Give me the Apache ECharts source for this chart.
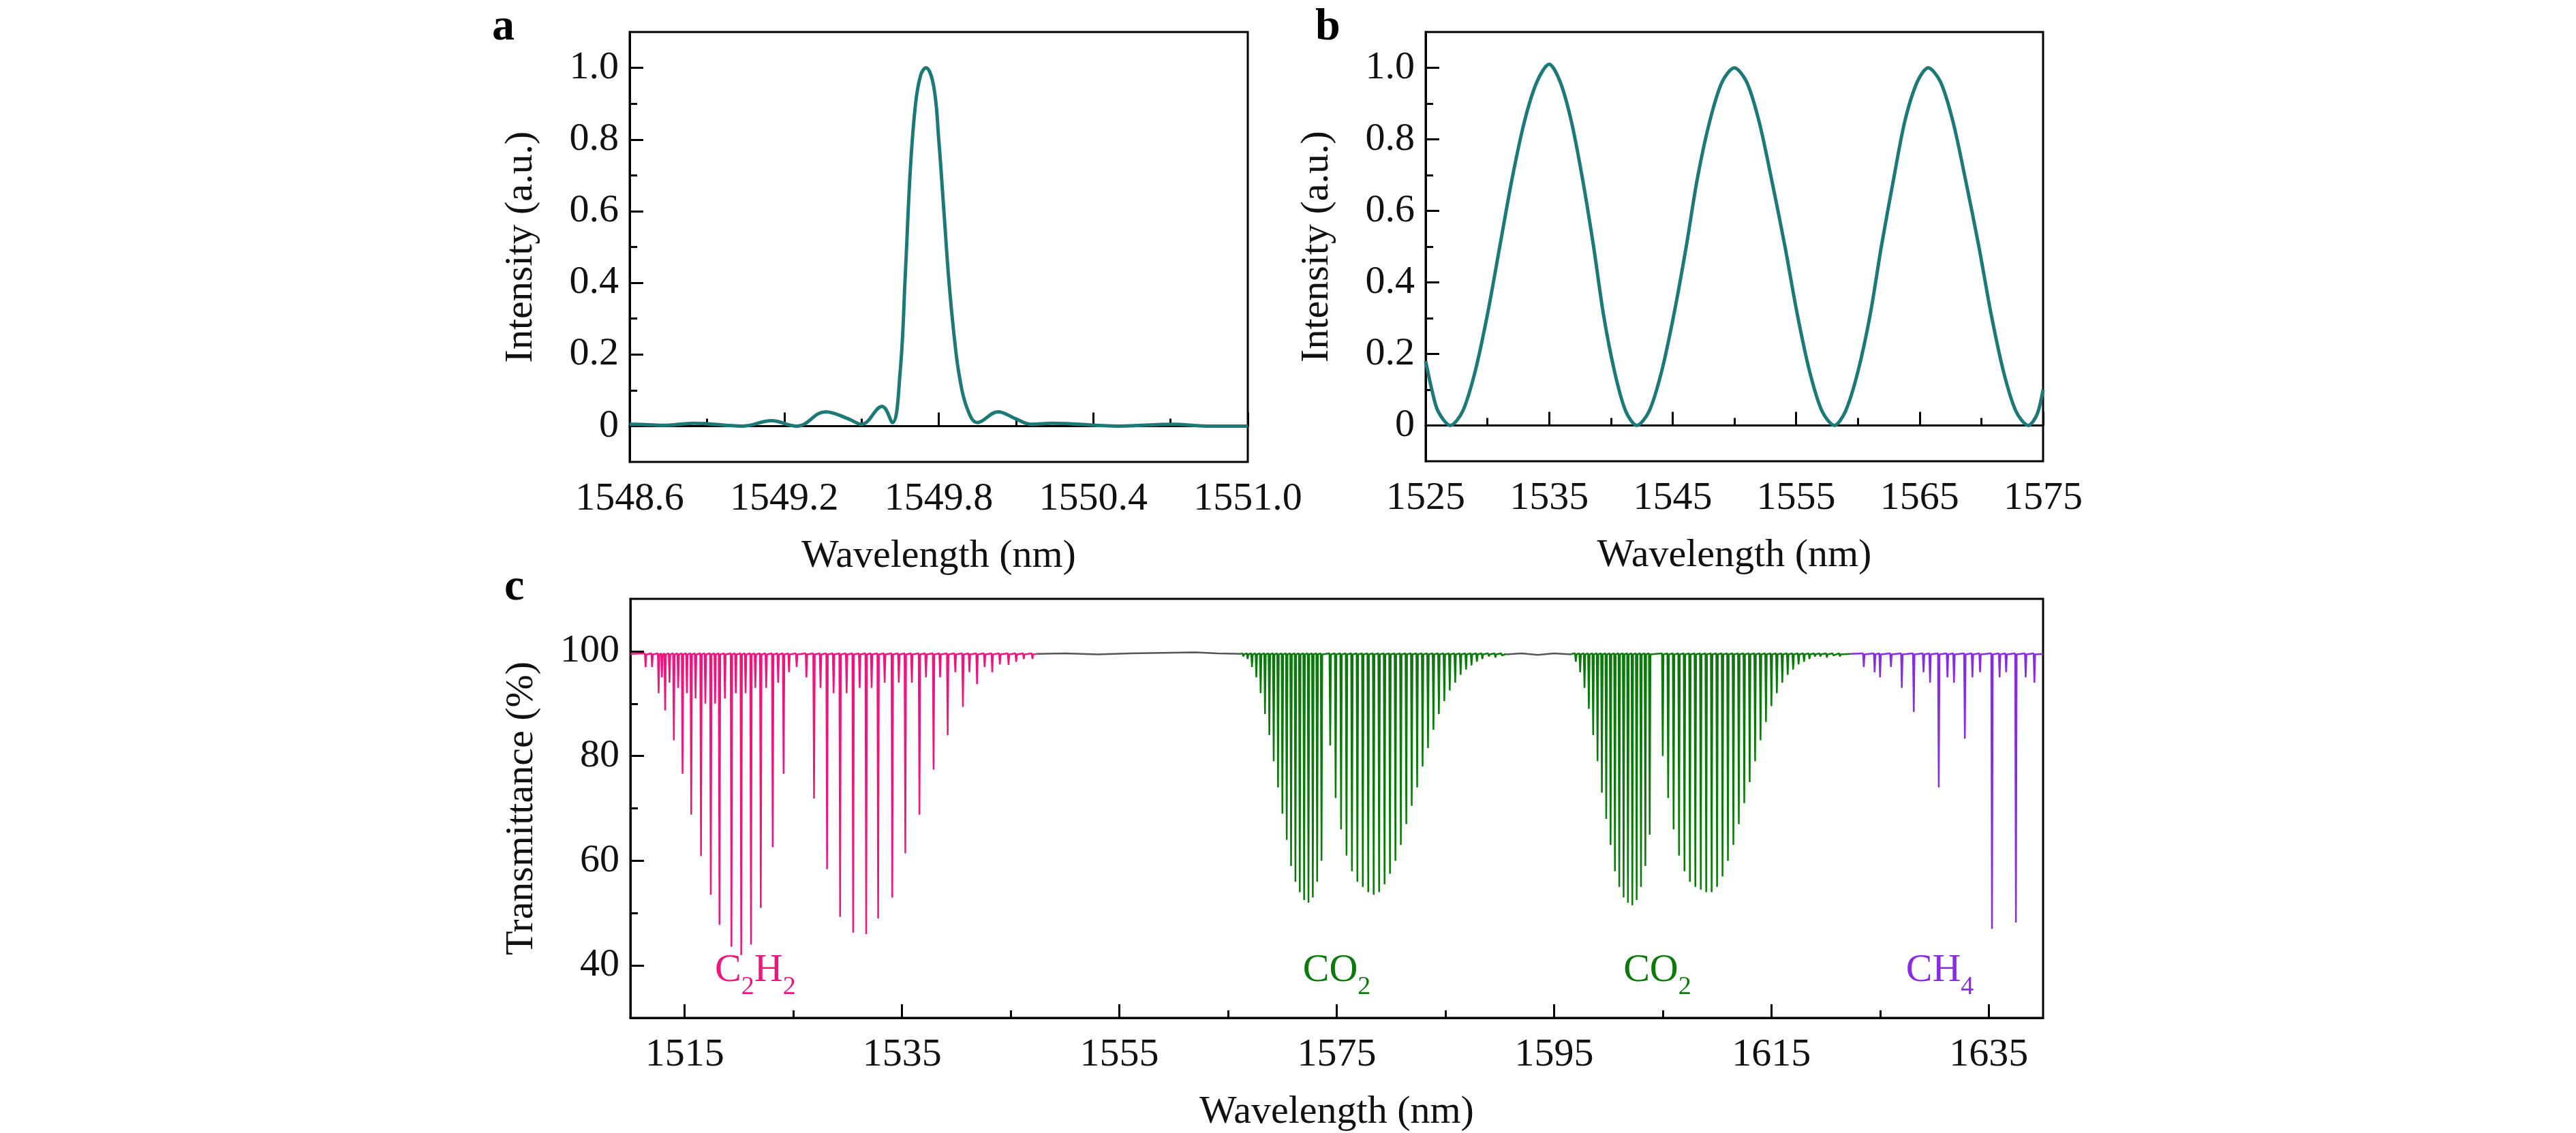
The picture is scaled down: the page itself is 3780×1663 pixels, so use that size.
<!DOCTYPE html>
<html><head><meta charset="utf-8">
<script src="https://cdn.jsdelivr.net/npm/echarts@6/dist/echarts.min.js"></script>
<style>html,body{margin:0;padding:0;background:#fff}#c{width:3780px;height:1663px}</style>
</head><body><div id="c"></div>
<script>
// ---- Panel a: single-wavelength filter response ----
const aWave = [1548.6,1548.62,1548.73,1548.85,1549.04,1549.15,1549.25,1549.36,1549.45,1549.5,1549.58,1549.62,1549.65,1549.67,1549.69,1549.71,1549.73,1549.75,1549.78,1549.8,1549.82,1549.84,1549.86,1549.88,1549.91,1549.95,1550.03,1550.1,1550.16,1550.24,1550.5,1550.71,1550.84,1551.0];
const aInt  = [0.005,0.005,0.002,0.008,0.0,0.015,0.0,0.04,0.02,0.005,0.055,0.01,0.15,0.42,0.72,0.9,0.98,1.0,0.95,0.8,0.6,0.4,0.25,0.14,0.05,0.01,0.04,0.02,0.005,0.008,0.0,0.005,0.0,0.0];
// ---- Panel b: tunable response ----
const bWave = [1525,1525.5,1526,1527.0,1528,1529,1530,1531,1532,1533,1534,1535.0,1535.9,1536.8,1537.7,1538.6,1539.4,1540.3,1541.2,1542.1,1543.1,1544.1,1545.1,1546.1,1547,1548,1549,1550.0,1551,1552,1553,1554.1,1555.1,1556.1,1557.1,1558.1,1559,1560,1561,1561.9,1562.9,1563.8,1564.8,1565.7,1566.7,1567.7,1568.7,1569.8,1570.8,1571.8,1572.8,1573.8,1574.5,1575];
const bInt  = [0.18,0.1,0.04,0.0,0.04,0.15,0.31,0.5,0.69,0.85,0.96,1.01,0.96,0.85,0.69,0.5,0.31,0.15,0.04,0.0,0.04,0.15,0.31,0.5,0.69,0.85,0.96,1.0,0.96,0.85,0.69,0.5,0.31,0.15,0.04,0.0,0.04,0.15,0.31,0.5,0.69,0.85,0.96,1.0,0.96,0.85,0.69,0.5,0.31,0.15,0.04,0.0,0.03,0.1];
// ---- Panel c: gas absorption lines (centre nm, transmittance %) ----
const c2h2Centers = [1511.4,1512.6,1513.2,1514.0,1514.8,1515.6,1516.5,1517.4,1518.2,1519.3,1520.2,1521.1,1522.0,1523.1,1524.1,1526.9,1528.1,1529.3,1530.5,1531.7,1532.8,1534.1,1535.3,1536.6,1537.9,1539.2,1540.6,1541.9,1543.3,1544.8,1546.2];
const c2h2Depths  = [97,92,88.7,83,76.6,68.8,60.9,53.5,47.8,43.6,42,44,51,62.6,76.6,71.9,58.4,49.3,46.3,46,49,53,61.4,68.8,77.4,84,89.4,93.7,96,97.4,98.5];
const c2h2WeakCenters = [1512.0,1512.9,1513.6,1514.4,1515.2,1516.0,1516.9,1517.8,1518.7,1519.7,1520.6,1521.5,1522.5,1523.6,1524.6,1525.3,1526.2,1527.5,1528.7,1529.9,1531.1,1532.2,1533.4,1534.7,1535.9,1537.2,1538.5,1539.9,1541.2,1542.6,1544.0,1545.5,1547.0];
const c2h2WeakDepths  = [97,95,94,93,92,91,90,90,91,92,92,93,93,94,96,97,95,93,92,92,93,93,94,94,94,95,95,96,96,97,97.5,98,98.5];
const co2aCenters = [1566.4,1566.8,1567.2,1567.6,1568.0,1568.4,1568.8,1569.2,1569.6,1570.0,1570.4,1570.8,1571.2,1571.6,1572.0,1572.4,1572.8,1573.2,1573.6,1574.4,1574.9,1575.4,1575.9,1576.4,1576.9,1577.4,1577.9,1578.4,1578.9,1579.4,1579.9,1580.4,1580.9,1581.4,1581.9,1582.4,1582.9,1583.4,1583.9,1584.4,1584.9,1585.4,1585.9,1586.4,1586.9,1587.4,1587.9,1588.4,1589.0,1589.6,1590.2];
const co2aDepths  = [99,98.5,97,95,92,88,84,79,74,69,64,59,56,54,52.5,52,53,56,60,82,72,66,61,58,56,55,54,53.5,54,55.5,57.5,60,63,67,70.5,74,78,81.5,85,88,90.5,92.5,94,95.5,96.5,97.3,98,98.5,99,98.8,99.2];
const co2bCenters = [1597.0,1597.4,1597.8,1598.2,1598.6,1599.0,1599.4,1599.8,1600.2,1600.6,1601.0,1601.4,1601.8,1602.2,1602.6,1603.0,1603.4,1603.8,1605.0,1605.5,1606.0,1606.5,1607.0,1607.5,1608.0,1608.5,1609.0,1609.5,1610.0,1610.5,1611.0,1611.5,1612.0,1612.5,1613.0,1613.5,1614.0,1614.5,1615.0,1615.5,1616.0,1616.5,1617.0,1617.5,1618.0,1618.5,1619.0,1619.5,1620.1,1620.7,1621.3];
const co2bDepths  = [98,96,93,89,84,79,73,68,63,58,55,53,52,51.5,52.5,55,59,65,80,72,66,61,58,56,55,54.5,54,54,55,57,60,63,67,71,75,79,83,86.5,89.5,92,94,95.5,96.5,97.5,98,98.5,99,99,98.8,99.2,99];
const ch4Centers = [1623.5,1624.5,1625.0,1626.0,1627.0,1628.1,1629.0,1629.6,1630.4,1631.2,1631.8,1632.8,1633.5,1634.2,1635.3,1636.0,1636.6,1637.5,1638.4,1639.2];
const ch4Depths  = [97,96,95,97,93,88.4,96,94,74,95,94,83.3,95,96,47,95,96,48.2,95,94];
const grayA = [[1547.4,99.5],[1550,99.6],[1553,99.4],[1556,99.6],[1559,99.7],[1562,99.8],[1564,99.6],[1566.2,99.5]];
const grayB = [[1590.6,99.4],[1592,99.6],[1593.5,99.3],[1595,99.6],[1596.6,99.4]];
const gasLabels = [['C2H2',1521.5,39,'#f0147f'],['CO2',1575,39,'#0a7a0a'],['CO2',1604.5,39,'#0a7a0a'],['CH4',1630.5,39,'#8a2be2']];

function lines(centers, depths, start, end){
  const all = centers.map((c,i)=>[c,depths[i]]).sort((p,q)=>p[0]-q[0]);
  const pts=[[start,99.5]];
  const h=0.07;
  all.forEach(([c,d])=>{pts.push([c-h,99.6],[c,d],[c+h,99.4]);});
  pts.push([end,99.5]);
  return pts;
}
const pink = lines(c2h2Centers.concat(c2h2WeakCenters), c2h2Depths.concat(c2h2WeakDepths), 1510, 1547.4);
const greenA = lines(co2aCenters, co2aDepths, 1566.2, 1590.6);
const greenB = lines(co2bCenters, co2bDepths, 1596.6, 1622.3);
const purple = lines(ch4Centers, ch4Depths, 1622.3, 1640);

const FONT='"Liberation Serif", "DejaVu Serif", serif';
const teal='#1b7a78';
function xAx(grid,min,max,major,minor,name,fmt){
  return [{type:'value',gridIndex:grid,min,max,name,nameLocation:'middle',nameGap:110,
    nameTextStyle:{fontFamily:FONT,fontSize:58,color:'#111'},
    axisLine:{lineStyle:{color:'#000',width:3}},
    axisTick:{inside:true,length:20,lineStyle:{width:3,color:'#000'},customValues:major},
    axisLabel:{customValues:major,fontFamily:FONT,fontSize:58,color:'#111',margin:26,formatter:fmt},
    splitLine:{show:false}},
   {type:'value',gridIndex:grid,min,max,position:'bottom',axisLine:{show:false},
    axisTick:{inside:true,length:11,lineStyle:{width:3,color:'#000'},customValues:minor},
    axisLabel:{show:false},splitLine:{show:false}}];
}
function yAx(grid,min,max,major,minor,name,fmt,gap){
  return [{type:'value',gridIndex:grid,min,max,name,nameLocation:'middle',nameGap:gap,
    nameTextStyle:{fontFamily:FONT,fontSize:58,color:'#111'},
    axisLine:{lineStyle:{color:'#000',width:3}},
    axisTick:{inside:true,length:20,lineStyle:{width:3,color:'#000'},customValues:major},
    axisLabel:{customValues:major,fontFamily:FONT,fontSize:58,color:'#111',margin:16,formatter:fmt},
    splitLine:{show:false}},
   {type:'value',gridIndex:grid,min,max,position:'left',axisLine:{show:false},
    axisTick:{inside:true,length:11,lineStyle:{width:3,color:'#000'},customValues:minor},
    axisLabel:{show:false},splitLine:{show:false}}];
}
const chart = echarts.init(document.getElementById('c'));
const gridBorder={show:true,borderColor:'#000',borderWidth:3,backgroundColor:'transparent'};
const option={
  animation:false,
  textStyle:{fontFamily:FONT},
  grid:[Object.assign({left:924,top:47,width:907,height:631},gridBorder),
        Object.assign({left:2092,top:47,width:906,height:630},gridBorder),
        Object.assign({left:925,top:879,width:2073,height:633},gridBorder)],
  xAxis:[].concat(
    xAx(0,1548.6,1551.0,[1548.6,1549.2,1549.8,1550.4,1551.0],[1548.9,1549.5,1550.1,1550.7],'Wavelength (nm)',v=>v.toFixed(1)),
    xAx(1,1525,1575,[1525,1535,1545,1555,1565,1575],[1530,1540,1550,1560,1570],'Wavelength (nm)',v=>String(v)),
    xAx(2,1510,1640,[1515,1535,1555,1575,1595,1615,1635],[1525,1545,1565,1585,1605,1625],'Wavelength (nm)',v=>String(v))),
  yAxis:[].concat(
    yAx(0,-0.1,1.1,[0,0.2,0.4,0.6,0.8,1.0],[0.1,0.3,0.5,0.7,0.9],'Intensity (a.u.)',v=>v===0?'0':v.toFixed(1),130),
    yAx(1,-0.1,1.1,[0,0.2,0.4,0.6,0.8,1.0],[0.1,0.3,0.5,0.7,0.9],'Intensity (a.u.)',v=>v===0?'0':v.toFixed(1),130),
    yAx(2,30,110,[40,60,80,100],[50,70,90],'Transmittance (%)',v=>String(v),130)),
  series:[
    {type:'line',xAxisIndex:0,yAxisIndex:0,data:aWave.map((w,i)=>[w,aInt[i]]),smooth:0.4,showSymbol:false,lineStyle:{color:teal,width:5}},
    {type:'line',xAxisIndex:2,yAxisIndex:2,data:bWave.map((w,i)=>[w,bInt[i]]),smooth:0.3,showSymbol:false,lineStyle:{color:teal,width:5}},
    {type:'line',xAxisIndex:4,yAxisIndex:4,data:pink,showSymbol:false,lineStyle:{color:'#f0147f',width:2.5}},
    {type:'line',xAxisIndex:4,yAxisIndex:4,data:grayA,showSymbol:false,lineStyle:{color:'#555',width:2.5}},
    {type:'line',xAxisIndex:4,yAxisIndex:4,data:grayB,showSymbol:false,lineStyle:{color:'#555',width:2.5}},
    {type:'line',xAxisIndex:4,yAxisIndex:4,data:greenA,showSymbol:false,lineStyle:{color:'#0a7a0a',width:2.5}},
    {type:'line',xAxisIndex:4,yAxisIndex:4,data:greenB,showSymbol:false,lineStyle:{color:'#0a7a0a',width:2.5}},
    {type:'line',xAxisIndex:4,yAxisIndex:4,data:purple,showSymbol:false,lineStyle:{color:'#8a2be2',width:2.5}}
  ]
};
chart.setOption(option);
function rich(name){
  return name.replace(/(\d)/g,'{s|$1}').replace(/([A-Z]+)(?=\{|$)/g,'{n|$1}');
}
const g=[
  {type:'text',left:722,top:8,style:{text:'a',font:'bold 66px "Liberation Serif"',fill:'#000'}},
  {type:'text',left:1930,top:8,style:{text:'b',font:'bold 66px "Liberation Serif"',fill:'#000'}},
  {type:'text',left:740,top:830,style:{text:'c',font:'bold 66px "Liberation Serif"',fill:'#000'}}
];
gasLabels.forEach(([n,x,y,col])=>{
  const p=chart.convertToPixel({xAxisIndex:4,yAxisIndex:4},[x,y]);
  g.push({type:'text',x:p[0],y:p[1],style:{text:rich(n),align:'center',verticalAlign:'middle',
    rich:{n:{fontFamily:FONT,fontSize:58,fill:col,verticalAlign:'bottom'},
          s:{fontFamily:FONT,fontSize:38,fill:col,verticalAlign:'bottom',padding:[0,0,-14,0]}}}});
});
chart.setOption({graphic:g});
</script></body></html>
